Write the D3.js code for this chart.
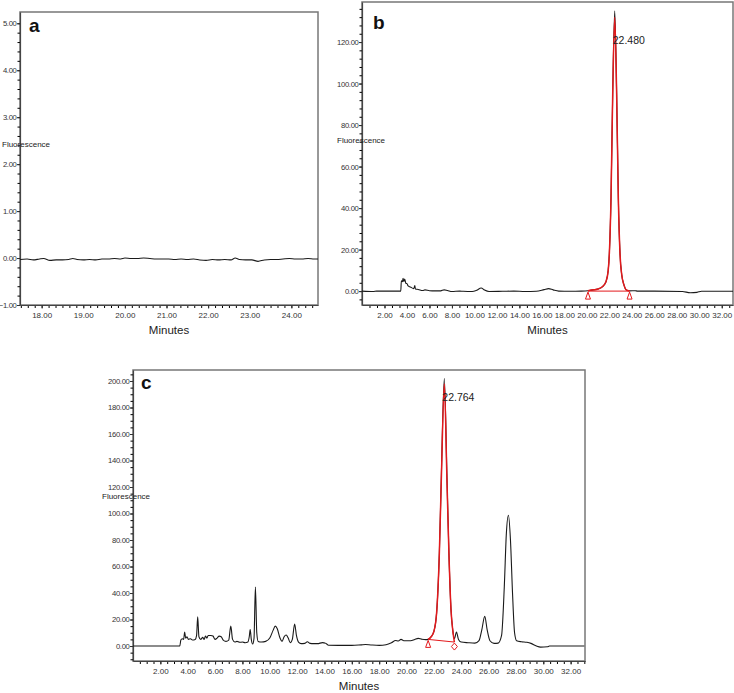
<!DOCTYPE html>
<html>
<head>
<meta charset="utf-8">
<script src="https://cdn.jsdelivr.net/npm/d3@7"></script>
<style>
  body { margin: 0; background: #fff; }
  text { font-family: "Liberation Sans", Arial, sans-serif; }
</style>
</head>
<body>
<div id="chart"></div>
<script>
// ---- data: [minutes, fluorescence] ----
var traceA = [[17.48,-0.03],[17.65,-0.02],[17.8,-0.04],[17.95,-0.02],[18.05,-0.01],[18.2,-0.05],[18.35,-0.04],
  [18.5,-0.04],[18.65,-0.03],[18.75,-0.01],[18.85,-0.03],[19.0,-0.04],[19.15,-0.03],[19.3,-0.04],[19.45,-0.02],
  [19.6,-0.02],[19.75,-0.01],[19.9,-0.02],[20.0,0.0],[20.15,-0.01],[20.3,-0.01],[20.45,0.0],[20.6,-0.01],
  [20.75,-0.02],[20.9,-0.02],[21.05,-0.02],[21.2,-0.03],[21.35,-0.02],[21.5,-0.03],[21.65,-0.02],[21.8,-0.04],
  [21.95,-0.05],[22.1,-0.03],[22.25,-0.04],[22.4,-0.03],[22.55,-0.04],[22.65,0.0],[22.75,-0.03],[22.9,-0.04],
  [23.05,-0.04],[23.2,-0.07],[23.35,-0.04],[23.5,-0.03],[23.65,-0.03],[23.8,-0.02],[23.95,-0.01],[24.1,-0.02],
  [24.25,-0.02],[24.4,-0.01],[24.55,-0.02],[24.64,-0.02]];

var traceB = [[0,0],[1.0,-0.2],[1.3,0],[3.45,0],[3.5,5],[3.6,4.5],[3.65,6.2],[3.72,4.6],[3.8,5.8],[3.9,3.8],
  [4.0,3.6],[4.1,2.5],[4.3,2.0],[4.6,1.2],[4.7,2.7],[4.75,1.0],[5.0,0.8],[5.4,0.3],[5.6,0.6],[6.0,0.2],[6.5,0.1],
  [7.0,0.1],[7.3,0.6],[7.6,0.3],[8.0,-0.2],[8.7,0],[9.0,-0.1],[9.8,-0.2],[10.2,0.4],[10.6,1.5],[10.9,0.5],
  [11.3,-0.2],[12.5,-0.1],[13.5,0],[14.5,-0.2],[15.5,-0.1],[16.2,0.7],[16.6,1.2],[17.0,0.6],[17.5,0],[18.5,-0.1],
  [19.5,0],[20.1,0.2],[20.6,0.6],[21.0,1.0],[21.4,2.2],[21.7,4.5],[21.9,10],[22.0,18],[22.15,45],[22.3,95],
  [22.48,135],[22.65,95],[22.8,45],[22.95,18],[23.1,8],[23.3,3],[23.5,0.6],[23.8,0.1],[24.3,0.2],[24.5,0],
  [26,0],[28.5,-0.2],[29.2,-0.8],[29.8,-0.6],[30.2,-0.1],[33,-0.1]];
var peakB = [[20.1,0.2],[20.6,0.6],[21.0,1.0],[21.4,2.2],[21.7,4.5],[21.9,10],[22.0,18],[22.15,45],[22.3,95],
  [22.48,132],[22.65,95],[22.8,45],[22.95,18],[23.1,8],[23.3,3],[23.5,0.6],[23.8,0.1]];
var baseB = [[20.1,0],[23.8,0]];

var traceC = [[0,0],[3.42,0],[3.5,4.5],[3.6,5.5],[3.7,5],[3.78,10.6],[3.85,6],[3.95,7],[4.05,5],[4.2,5.5],
  [4.35,4.5],[4.55,5],[4.65,8],[4.73,22],[4.82,7],[4.95,5],[5.1,6.5],[5.2,5],[5.3,7.5],[5.4,6],[5.5,8],[5.7,8],
  [5.85,7.5],[6.0,5],[6.15,6],[6.3,7.5],[6.45,7],[6.6,4.5],[6.8,3.5],[7.0,4.5],[7.15,15],[7.28,5],[7.45,3],
  [7.6,3.5],[7.8,2.8],[8.0,3],[8.2,2.5],[8.4,3],[8.5,7],[8.57,12.4],[8.65,5],[8.75,1.5],[8.85,6],[8.95,44.6],
  [9.05,10],[9.15,3.5],[9.4,3],[9.7,3.5],[10.0,6],[10.25,12],[10.4,15],[10.55,13],[10.75,6],[10.9,3.5],
  [11.05,7],[11.2,8.3],[11.35,6],[11.5,2.5],[11.65,5],[11.82,16.6],[11.95,8],[12.1,3],[12.3,1.8],[12.55,2],
  [12.75,3.2],[12.95,2],[13.2,1.8],[13.5,1.8],[13.85,2.6],[14.1,2],[14.3,0.6],[15,0.5],[16,0.5],[16.7,0.9],
  [17,1.1],[17.4,0.8],[18,0.5],[18.5,1],[18.9,2.5],[19.2,4.2],[19.4,3.8],[19.6,5],[19.8,4],[20.3,4],[20.6,5],
  [20.85,5.8],[21.1,5.2],[21.4,4.8],[21.58,5],[21.8,7],[22.0,11],[22.2,25],[22.4,70],[22.55,130],[22.764,202],
  [22.95,130],[23.1,70],[23.25,28],[23.38,12],[23.5,5.5],[23.65,10.6],[23.8,5],[24.0,3],[24.5,2.5],[25.0,2.2],
  [25.3,4],[25.5,12],[25.72,22.4],[25.9,12],[26.1,4],[26.4,2],[26.7,2.2],[26.95,8],[27.15,45],[27.3,85],
  [27.45,98.7],[27.6,80],[27.75,40],[27.9,10],[28.05,4],[28.4,3.2],[28.8,2.8],[29.1,2],[29.5,0],[29.8,-0.8],
  [30.3,-0.6],[30.45,0],[33,0]];
var peakC = [[21.58,5],[21.8,7],[22.0,11],[22.2,25],[22.4,70],[22.55,128],[22.764,198],[22.95,128],[23.1,70],
  [23.25,28],[23.38,12],[23.5,3]];
var baseC = [[21.58,5],[23.5,3]];

// tick labels
var aXTicks = [18, 19, 20, 21, 22, 23, 24];
var aYTicks = [-1, 0, 1, 2, 3, 4, 5];
var bcXTicks = [2, 4, 6, 8, 10, 12, 14, 16, 18, 20, 22, 24, 26, 28, 30, 32];
var bYTicks = [0, 20, 40, 60, 80, 100, 120];
var cYTicks = [0, 20, 40, 60, 80, 100, 120, 140, 160, 180, 200];

var fmt = d3.format(".2f");
var red = "#e3191c";

var svg = d3.select("#chart").append("svg")
    .attr("width", 734)
    .attr("height", 693);

function drawPanel(p) {
  var x = d3.scaleLinear().domain(p.xDom).range([p.left, p.right]);
  var y = d3.scaleLinear().domain(p.yDom).range([p.bottom, p.top]);
  var g = svg.append("g");

  // frame
  g.append("rect")
      .attr("x", p.left).attr("y", p.top)
      .attr("width", p.right - p.left).attr("height", p.bottom - p.top)
      .attr("fill", "none").attr("stroke", "#777").attr("stroke-width", 1.5);

  // minor ticks
  g.append("g").attr("transform", "translate(0," + p.bottom + ")")
      .call(d3.axisBottom(x).tickValues(p.xMinor).tickFormat("").tickSize(3))
      .call(function(s) { s.select(".domain").remove(); });
  g.append("g").attr("transform", "translate(" + p.left + ",0)")
      .call(d3.axisLeft(y).tickValues(p.yMinor).tickFormat("").tickSize(2.5))
      .call(function(s) { s.select(".domain").remove(); });

  // major ticks + labels
  var xa = g.append("g").attr("transform", "translate(0," + p.bottom + ")")
      .call(d3.axisBottom(x).tickValues(p.xTicks).tickFormat(fmt).tickSize(3.5).tickSizeOuter(0).tickPadding(4));
  var ya = g.append("g").attr("transform", "translate(" + p.left + ",0)")
      .call(d3.axisLeft(y).tickValues(p.yTicks).tickFormat(fmt).tickSize(3).tickSizeOuter(0).tickPadding(0.5));
  [xa, ya].forEach(function(a) {
    a.selectAll("text").attr("font-size", "8px").attr("fill", "#333")
      .style("font-family", '"Liberation Sans", Arial, sans-serif');
    a.selectAll("line").attr("stroke", "#333");
    a.select(".domain").attr("stroke", "#444").attr("stroke-width", 1.2);
  });
  ya.selectAll("text").attr("font-size", "7.7px").attr("letter-spacing", "-0.35px");

  // axis titles
  g.append("text").attr("x", (p.left + p.right) / 2).attr("y", p.bottom + 29)
      .attr("text-anchor", "middle").attr("font-size", "11.5px").attr("fill", "#222")
      .text("Minutes");
  g.append("text").attr("x", p.fluorX).attr("y", p.fluorY)
      .attr("font-size", "8px").attr("fill", "#222")
      .text("Fluorescence");

  // panel letter
  g.append("text").attr("x", p.letterX).attr("y", p.letterY)
      .attr("font-size", "19px").attr("font-weight", "bold").attr("fill", "#111")
      .text(p.letter);

  var line = d3.line().x(function(d) { return x(d[0]); }).y(function(d) { return y(d[1]); });

  g.append("path").datum(p.trace)
      .attr("d", line.curve(d3.curveMonotoneX))
      .attr("fill", "none").attr("stroke", "#1a1a1a").attr("stroke-width", 1.1);

  if (p.peak) {
    g.append("path").datum(p.peak)
        .attr("d", line.curve(d3.curveMonotoneX))
        .attr("fill", "none").attr("stroke", red).attr("stroke-width", 1.5);
    g.append("path").datum(p.base)
        .attr("d", line.curve(d3.curveLinear))
        .attr("fill", "none").attr("stroke", red).attr("stroke-width", 1);

    // start marker: triangle below the baseline start
    var s = p.base[0];
    var sx = x(s[0]), sy = y(s[1]);
    g.append("path")
        .attr("d", "M" + sx + "," + (sy + 1) + "L" + (sx - 2.5) + "," + (sy + 8) + "L" + (sx + 2.5) + "," + (sy + 8) + "Z")
        .attr("fill", "#fff").attr("stroke", red).attr("stroke-width", 1);
    // end marker
    var e = p.base[1];
    var ex = x(e[0]), ey = y(e[1]);
    if (p.endMark === "diamond") {
      g.append("path")
          .attr("d", "M" + ex + "," + (ey + 1) + "L" + (ex + 3) + "," + (ey + 4.5) + "L" + ex + "," + (ey + 8) + "L" + (ex - 3) + "," + (ey + 4.5) + "Z")
          .attr("fill", "#fff").attr("stroke", red).attr("stroke-width", 1);
    } else {
      g.append("path")
          .attr("d", "M" + ex + "," + (ey + 1) + "L" + (ex - 2.5) + "," + (ey + 8) + "L" + (ex + 2.5) + "," + (ey + 8) + "Z")
          .attr("fill", "#fff").attr("stroke", red).attr("stroke-width", 1);
    }

    // retention time label
    g.append("text")
        .attr("x", x(p.rt) - 2).attr("y", y(p.rtLabelY))
        .attr("font-size", "10.5px").attr("fill", "#222")
        .text(d3.format(".3f")(p.rt));
  }
}

drawPanel({
  letter: "a", letterX: 29, letterY: 32,
  left: 20, right: 318, top: 12, bottom: 305,
  xDom: [17.48, 24.64], yDom: [-1.0, 5.24],
  xTicks: aXTicks, yTicks: aYTicks,
  xMinor: d3.range(17.5, 24.64, 1 / 6), yMinor: d3.range(-1, 5.2, 0.2),
  fluorX: 2, fluorY: 147,
  trace: traceA
});

drawPanel({
  letter: "b", letterX: 373, letterY: 29,
  left: 362, right: 733, top: 2, bottom: 305,
  xDom: [0, 33.0], yDom: [-6.7, 139.3],
  xTicks: bcXTicks, yTicks: bYTicks,
  xMinor: d3.range(2 / 3, 33, 2 / 3), yMinor: d3.range(-4, 138, 4),
  fluorX: 337, fluorY: 143,
  trace: traceB, peak: peakB, base: baseB, endMark: "triangle",
  rt: 22.48, rtLabelY: 119
});

drawPanel({
  letter: "c", letterX: 141, letterY: 389,
  left: 133, right: 585, top: 370, bottom: 661,
  xDom: [0, 33.05], yDom: [-11.3, 208.3],
  xTicks: bcXTicks, yTicks: cYTicks,
  xMinor: d3.range(0.5, 33.05, 0.5), yMinor: d3.range(-10, 206, 5),
  fluorX: 102, fluorY: 498.5,
  trace: traceC, peak: peakC, base: baseC, endMark: "diamond",
  rt: 22.764, rtLabelY: 185
});
</script>
</body>
</html>
